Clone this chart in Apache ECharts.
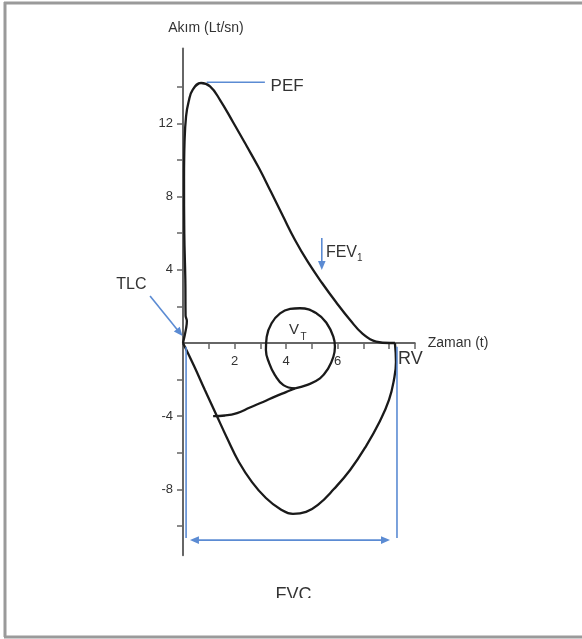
<!DOCTYPE html>
<html><head><meta charset="utf-8">
<script src="https://cdn.jsdelivr.net/npm/echarts@6/dist/echarts.min.js"></script>
<style>html,body{margin:0;padding:0;background:#fff}#c{width:582px;height:639px}</style>
</head><body><div id="c"></div>
<script>
// ---- data (x: volume/time units, y: flow Lt/sn) ----
const expiration = [[0,0],[0.12,0.8],[0.15,1.2],[0.1,1.5],[0.09,3.5],[0.05,6],[0.04,9],[0.06,11],[0.12,12.4],[0.22,13.2],[0.38,13.85],[0.70,14.21],[1.05,14.02],[1.44,13.28],[1.94,12.08],[2.45,10.82],[2.95,9.56],[3.42,8.25],[3.88,6.94],[4.35,5.63],[4.85,4.43],[5.40,3.28],[5.94,2.24],[6.49,1.26],[6.99,0.49],[7.50,0.08],[8.04,0],[8.23,0]];
const inspiration = [[0,0],[0.43,-1.26],[0.85,-2.57],[1.28,-3.88],[1.71,-5.19],[2.17,-6.50],[2.68,-7.60],[3.22,-8.47],[3.77,-9.07],[4.27,-9.34],[4.78,-9.23],[5.24,-8.85],[5.86,-7.98],[6.49,-6.94],[7.11,-5.63],[7.65,-4.26],[8.00,-3.11],[8.19,-2.02],[8.27,-1.04],[8.23,0]];
const tidalLoop = [[4.35,-2.48],[4.80,-2.30],[5.32,-1.93],[5.64,-1.38],[5.84,-0.75],[5.90,-0.20],[5.84,0.34],[5.58,1.08],[5.19,1.62],[4.54,1.90],[4.16,1.86],[3.77,1.62],[3.44,1.08],[3.25,0.34],[3.22,-0.38],[3.35,-1.11],[3.57,-1.75],[3.90,-2.30],[4.35,-2.48]];
const tidalTail = [[4.35,-2.48],[4.0,-2.68],[3.57,-2.93],[3.11,-3.22],[2.60,-3.52],[2.10,-3.83],[1.63,-3.96],[1.17,-3.99]];
const xTickValues = [1,2,3,4,5,6,7,8,9];
const xLabelValues = [2,4,6];
const yTickValues = [-10,-8,-6,-4,-2,2,4,6,8,10,12,14];
const yLabelValues = [-8,-4,4,8,12];
const xAxisName = 'Zaman (t)';
const yAxisName = 'Akım (Lt/sn)';
// annotations (data units)
const pefLine = [[0.92,14.25],[3.18,14.25]];
const fevArrow = [[5.39,5.74],[5.39,3.99]];
const tlcArrow = [[-1.28,2.57],[-0.02,0.38]];
const fvcLeft = [[0.12,-0.2],[0.12,-10.66]];
const fvcRight = [[8.31,-0.2],[8.31,-10.66]];
const fvcSpan = [[0.27,-10.77],[8.04,-10.77]];
const texts = [
  {text:'PEF', at:[3.40,14.05], size:17, align:'left'},
  {text:'FEV', at:[5.55,4.92], size:16, align:'left'},
  {text:'1', at:[6.76,4.62], size:10, align:'left'},
  {text:'TLC', at:[-2.59,3.17], size:16, align:'left'},
  {text:'V', at:[4.31,0.71], size:15, align:'center'},
  {text:'T', at:[4.56,0.33], size:10, align:'left'},
  {text:'RV', at:[8.35,-0.87], size:18, align:'left'},
  {text:'FVC', at:[4.29,-13.75], size:18, align:'center'}
];

const X_MIN = 0, X_MAX = 9, Y_MIN = -11.6, Y_MAX = 16.1;
const GRID = {left:183, top:48.4, width:231.75, height:506.9};
const FONT = '"Liberation Sans", Arial, sans-serif';
const BLUE = '#5b8bd3';
const chart = echarts.init(document.getElementById('c'), null, {renderer:'canvas'});
const curve = (data) => ({type:'line', data, smooth:0.45, showSymbol:false, clip:false,
  lineStyle:{color:'#1a1a1a', width:2.3}, silent:true});
// x axis sits at flow = 0
const xOffset = -GRID.height * (0 - Y_MIN) / (Y_MAX - Y_MIN);
chart.setOption({
  animation:false,
  backgroundColor:'#fff',
  grid:Object.assign({containLabel:false}, GRID),
  xAxis:{type:'value', min:X_MIN, max:X_MAX, name:xAxisName, nameLocation:'end', nameGap:13,
    offset:xOffset,
    nameTextStyle:{fontSize:14, color:'#333', fontFamily:FONT},
    axisLine:{onZero:false, lineStyle:{color:'#666', width:2}},
    axisTick:{show:true, customValues:xTickValues, length:6, lineStyle:{color:'#666', width:1.5}},
    axisLabel:{customValues:xLabelValues, margin:12, fontSize:13, color:'#333', fontFamily:FONT},
    splitLine:{show:false}},
  yAxis:{type:'value', min:Y_MIN, max:Y_MAX, name:yAxisName, nameLocation:'end', nameGap:13,
    nameTextStyle:{fontSize:14, color:'#333', fontFamily:FONT, padding:[0,0,0,46]},
    axisLine:{show:true, onZero:false, lineStyle:{color:'#666', width:2}},
    axisTick:{show:true, customValues:yTickValues, length:6, lineStyle:{color:'#666', width:1.5}},
    axisLabel:{customValues:yLabelValues, margin:10, fontSize:13, color:'#333', fontFamily:FONT},
    splitLine:{show:false}},
  series:[curve(expiration), curve(inspiration), curve(tidalLoop), curve(tidalTail)]
});

const P = p => chart.convertToPixel({gridIndex:0}, p);
const g = [];
function seg(a, b, head) {
  const A = P(a), B = P(b);
  const dx = B[0]-A[0], dy = B[1]-A[1], L = Math.hypot(dx,dy), ux = dx/L, uy = dy/L;
  const hl = 9, hw = 3.8;
  let s = A.slice(), e = B.slice();
  const tri = (tip, dir) => {
    const bx = tip[0]-dir[0]*hl, by = tip[1]-dir[1]*hl;
    g.push({type:'polygon', shape:{points:[tip,[bx-dir[1]*hw, by+dir[0]*hw],[bx+dir[1]*hw, by-dir[0]*hw]]}, style:{fill:BLUE}, z:10});
  };
  if (head === 'end' || head === 'both') { tri(B,[ux,uy]); e = [B[0]-ux*hl*0.8, B[1]-uy*hl*0.8]; }
  if (head === 'both') { tri(A,[-ux,-uy]); s = [A[0]+ux*hl*0.8, A[1]+uy*hl*0.8]; }
  g.push({type:'line', shape:{x1:s[0],y1:s[1],x2:e[0],y2:e[1]}, style:{stroke:BLUE, lineWidth:1.6}, z:10});
}
seg(pefLine[0], pefLine[1], 'none');
seg(fevArrow[0], fevArrow[1], 'end');
seg(tlcArrow[0], tlcArrow[1], 'end');
seg(fvcLeft[0], fvcLeft[1], 'none');
seg(fvcRight[0], fvcRight[1], 'none');
seg(fvcSpan[0], fvcSpan[1], 'both');
texts.forEach(t => {
  const p = P(t.at);
  g.push({type:'text', x:p[0], y:p[1], z:11, style:{text:t.text, fontSize:t.size, fontFamily:FONT, fill:'#333', align:t.align, verticalAlign:'middle'}});
});
// clipped bottom of FVC caption (as in the reference)
g.push({type:'rect', shape:{x:240, y:598, width:110, height:35}, style:{fill:'#fff'}, z:12});
// frame
const FR = {stroke:'#9a9a9a', lineWidth:3};
g.push({type:'line', shape:{x1:4, y1:3, x2:582, y2:3}, style:FR, z:20});
g.push({type:'line', shape:{x1:5, y1:2, x2:5, y2:637}, style:FR, z:20});
g.push({type:'line', shape:{x1:4, y1:637, x2:582, y2:637}, style:FR, z:20});
chart.setOption({graphic:{elements:g}});
</script></body></html>
